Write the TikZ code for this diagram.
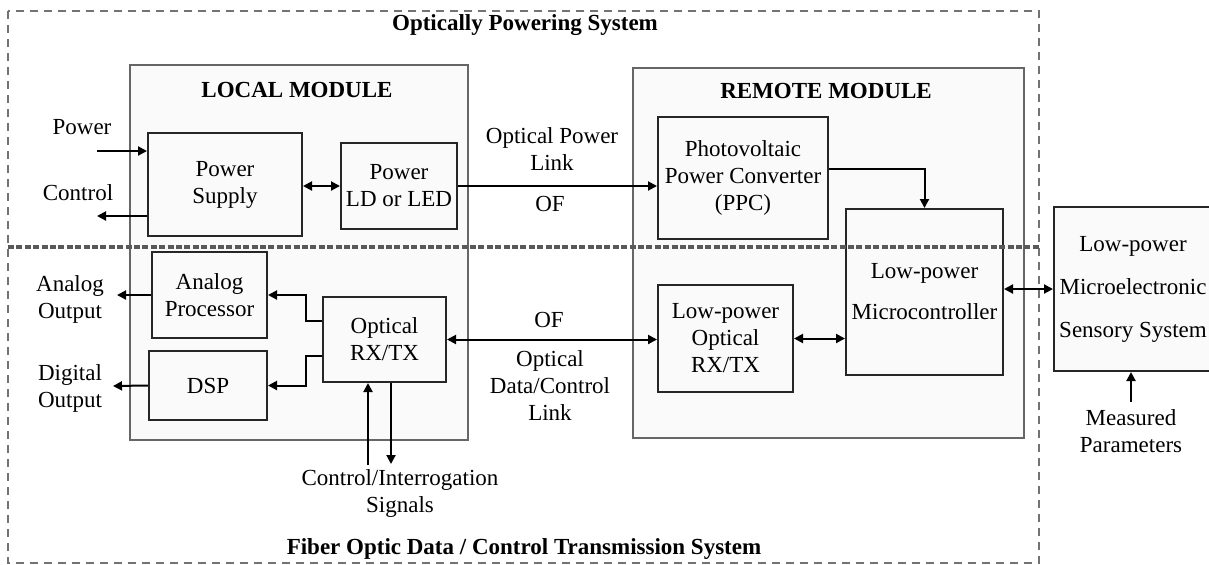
\documentclass[tikz,border=0pt]{standalone}
\usepackage{fontspec}
\setmainfont{Liberation Serif}
\usetikzlibrary{arrows.meta}
\tikzset{
  module/.style={draw=black!60, line width=1.2pt, fill=black!2},
  block/.style={draw=black!85, line width=1pt, fill=black!2, inner sep=0pt, align=center},
  lbl/.style={inner sep=0pt, align=center},
  ttl/.style={inner sep=0pt, font=\fontsize{11.5}{13.5}\selectfont\bfseries},
  arr/.style={line width=1pt, -{Triangle[length=4.5pt,width=4.5pt]}},
  darr/.style={line width=1pt, {Triangle[length=4.5pt,width=4.5pt]}-{Triangle[length=4.5pt,width=4.5pt]}},
  outer/.style={draw=black!55, line width=0.9pt, dash pattern=on 4pt off 3pt},
  divider/.style={draw=black!65, line width=1.6pt, dash pattern=on 3pt off 1.2pt}
}
\begin{document}
\begin{tikzpicture}[x=0.5pt,y=-0.5pt, font=\fontsize{11.5}{13.5}\selectfont]
\useasboundingbox (0,0) rectangle (1209,564);
\fill[white] (0,0) rectangle (1209,564);

% outer dashed system box
\draw[outer] (8,11) rectangle (1039,563);

% modules
\draw[module] (130,65) rectangle (468,440);
\draw[module] (633,68) rectangle (1024,438);
\node[ttl] (localt) at (297,90) {LOCAL MODULE};
\node[ttl] (remotet) at (826,91) {REMOTE MODULE};

% blocks
\node[block, minimum width=77pt, minimum height=51.5pt] (ps) at (225,184.5) {Power\\Supply};
\node[block, minimum width=58pt, minimum height=43pt] (ld) at (399,186) {Power\\LD or LED};
\node[block, minimum width=57.5pt, minimum height=43pt] (ap) at (209.5,295) {Analog\\Processor};
\node[block, minimum width=59pt, minimum height=34.5pt] (dsp) at (208,385.5) {DSP};
\node[block, minimum width=61.5pt, minimum height=42.5pt] (orx) at (384.5,339.5) {Optical\\RX/TX};
\node[block, minimum width=85pt, minimum height=61pt] (ppc) at (743,178) {Photovoltaic\\Power Converter\\(PPC)};
\node[block, minimum width=78.5pt, minimum height=83pt] (micro) at (924.5,292) {Low-power\\[7pt]Microcontroller};
\node[block, minimum width=67.5pt, minimum height=53.5pt] (lpo) at (725.5,338.5) {Low-power\\Optical\\RX/TX};
\node[block, minimum width=79pt, minimum height=82pt] (sens) at (1133,289) {Low-power\\[8pt]Microelectronic\\[8pt]Sensory System};

% divider between the two systems
\draw[divider] (8,247) -- (1039,247);

% titles
\node[ttl] (t1) at (525,25) {Optically Powering System};
\node[ttl] (t2) at (524,549) {Fiber Optic Data / Control Transmission System};

% outside labels
\node[lbl] (lpow) at (82,127) {Power};
\node[lbl] (lctl) at (78,193) {Control};
\node[lbl] (laout) at (70,299) {Analog\\Output};
\node[lbl] (ldout) at (70,388) {Digital\\Output};
\node[lbl] (lopl) at (552,149.5) {Optical Power\\Link};
\node[lbl] (lof1) at (550,204) {OF};
\node[lbl] (lof2) at (549,320) {OF};
\node[lbl] (lodl) at (550,386) {Optical\\Data/Control\\Link};
\node[lbl] (lcis) at (400,493.5) {Control/Interrogation\\Signals};
\node[lbl] (lmp) at (1131,431) {Measured\\Parameters};

% free ends
\coordinate (pin) at (97,151);
\coordinate (cout) at (97,216);
\coordinate (aout) at (117,295);
\coordinate (dout) at (113,386);
\coordinate (cin) at (368,465);
\coordinate (cdn) at (391,464);
\coordinate (meas) at (1131,402);
\coordinate (ppcy) at (0,169);

% connectors
\draw[arr] (pin) -- (pin -| ps.west);
\draw[arr] (cout -| ps.west) -- (cout);
\draw[darr] (ld.west -| ps.east) -- (ld.west);
\draw[arr] (ld.east) -- (ld.east -| ppc.west);
\draw[arr] (ppcy -| ppc.east) -| (micro.north);
\draw[darr] (sens.west -| micro.east) -- (sens.west);
\draw[darr] (lpo.east) -- (lpo.east -| micro.west);
\draw[darr] (orx.east) -- (orx.east -| lpo.west);
\draw[arr] (meas) -- (meas |- sens.south);
\draw[arr] ([yshift=9.25pt]orx.west) -- ++(-8pt,0) |- (ap.east);
\draw[arr] ([yshift=-8.25pt]orx.west) -- ++(-8pt,0) |- (dsp.east);
\draw[arr] (ap.west) -- (aout);
\draw[arr] (dsp.west) -- (dout);
\draw[arr] (cin) -- (cin |- orx.south);
\draw[arr] (cdn |- orx.south) -- (cdn);
\end{tikzpicture}
\end{document}
